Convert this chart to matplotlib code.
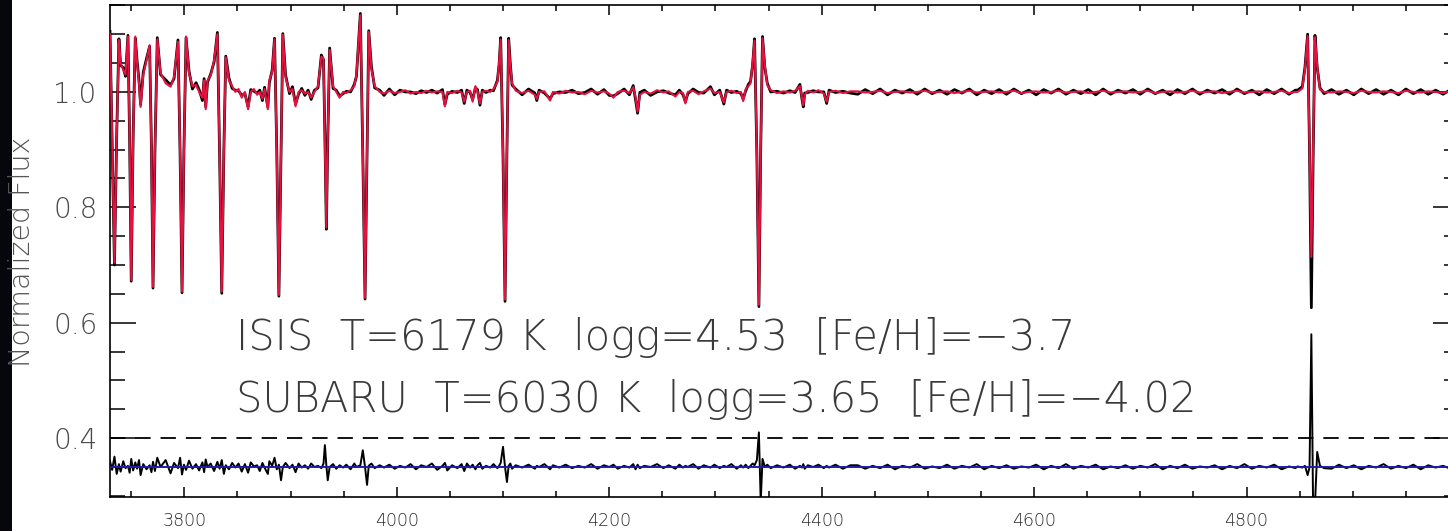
import matplotlib
matplotlib.use("Agg")
import matplotlib.pyplot as plt
from matplotlib.patches import Rectangle
from matplotlib.ticker import MultipleLocator, FormatStrFormatter, FuncFormatter

# wavelength grid (Angstrom)
wave = [
    3730.0, 3732.0, 3734.2, 3736.3, 3738.4, 3740.0, 3742.5, 3744.6, 3746.9, 3748.5,
    3750.0, 3751.8, 3753.8, 3755.5, 3757.3, 3758.8, 3761.3, 3764.4, 3767.3, 3769.0,
    3770.5, 3772.3, 3774.5, 3777.6, 3782.4, 3787.0, 3790.3, 3794.0, 3796.0, 3797.8,
    3799.6, 3801.6, 3804.4, 3807.6, 3811.0, 3813.9, 3817.0, 3818.6, 3820.1, 3821.8,
    3824.8, 3828.0, 3831.1, 3833.2, 3835.2, 3837.2, 3839.0, 3842.0, 3845.0, 3848.0,
    3851.0, 3854.0, 3857.0, 3860.0, 3862.5, 3865.5, 3868.5, 3871.0, 3873.5, 3875.5,
    3878.6, 3880.0, 3882.7, 3884.9, 3887.0, 3889.0, 3891.0, 3892.7, 3895.3, 3899.0,
    3901.8, 3904.7, 3907.5, 3910.5, 3913.5, 3916.5, 3919.4, 3922.5, 3925.8, 3929.0,
    3931.0, 3932.3, 3933.7, 3935.0, 3936.8, 3940.0, 3943.0, 3946.2, 3949.5, 3952.5,
    3956.5, 3960.0, 3962.0, 3965.7, 3968.0, 3970.1, 3972.0, 3973.6, 3976.1, 3979.2,
    3983.9, 3988.0,
    3993.0, 3998.0, 4003.0, 4008.0, 4013.0, 4018.0, 4023.0, 4028.0, 4033.0, 4038.0,
    4043.0, 4045.3, 4047.5, 4052.0, 4057.0, 4061.0, 4063.5, 4066.0, 4069.0, 4071.4,
    4074.0, 4076.0, 4078.3, 4080.5, 4084.0, 4088.0, 4091.0, 4094.7, 4096.3, 4097.8,
    4100.0, 4101.9, 4103.7, 4105.3, 4106.9, 4108.5, 4112.0,
    4118.0, 4124.0, 4130.0, 4131.8, 4134.0, 4139.0, 4144.3, 4147.0, 4153.0, 4159.0,
    4165.0, 4171.0, 4177.0, 4183.0, 4189.0, 4195.0, 4200.0, 4204.0, 4208.0, 4214.0,
    4219.0, 4222.6, 4224.8, 4226.7, 4228.8, 4233.0, 4239.0, 4245.0, 4251.0, 4256.0,
    4262.3, 4266.0, 4269.5, 4271.7, 4274.0, 4279.0, 4284.0, 4289.0, 4295.3, 4299.0,
    4304.0, 4307.9, 4310.5, 4315.0, 4320.0, 4324.0, 4326.1, 4328.5, 4331.0, 4333.0,
    4335.0, 4336.8, 4339.0, 4340.9, 4342.6, 4344.3, 4346.5, 4348.8, 4352.0,
    4358.0, 4364.0, 4370.0, 4375.0, 4379.5, 4381.5, 4382.7, 4384.0, 4387.0, 4392.0,
    4397.0, 4402.0, 4404.7, 4407.0, 4413.0, 4420.0, 4427.0,
    4434.0, 4441.0, 4448.0, 4455.0, 4462.0, 4469.0, 4476.0, 4483.0, 4490.0, 4497.0,
    4504.0, 4511.0, 4518.0, 4525.0, 4532.0, 4539.0, 4546.0, 4553.0, 4560.0, 4567.0,
    4574.0, 4581.0, 4588.0, 4595.0, 4602.0, 4609.0, 4616.0, 4623.0, 4630.0, 4637.0,
    4644.0, 4651.0, 4658.0, 4665.0, 4672.0, 4679.0, 4686.0, 4693.0, 4700.0, 4707.0,
    4714.0, 4721.0, 4728.0, 4735.0, 4742.0, 4749.0, 4756.0, 4763.0, 4770.0, 4777.0,
    4784.0, 4791.0, 4798.0, 4805.0, 4812.0, 4819.0, 4826.0, 4833.0, 4840.0, 4846.0,
    4848.0, 4852.5, 4855.0, 4857.5, 4859.3, 4861.0, 4862.7, 4864.4, 4866.5, 4869.1,
    4873.0,
    4880.0, 4887.0, 4894.0, 4901.0, 4908.0, 4915.0, 4922.0, 4929.0, 4936.0, 4943.0,
    4950.0, 4957.0, 4964.0, 4971.0, 4978.0, 4985.0, 4992.0, 4999.0,
]

# synthetic (model) spectrum, red
model_flux = [
    1.100, 0.920, 0.704, 0.920, 1.090, 1.050, 1.038, 1.030, 1.096, 0.920,
    0.674, 0.920, 1.096, 1.050, 1.015, 0.974, 1.030, 1.055, 1.081, 0.900,
    0.662, 0.900, 1.091, 1.033, 1.015, 1.009, 1.026, 1.087, 0.895, 0.654,
    0.895, 1.096, 1.033, 1.010, 1.012, 1.000, 0.990, 1.020, 0.970, 1.020,
    1.028, 1.055, 1.100, 0.895, 0.654, 0.895, 1.060, 1.020, 1.010, 1.000,
    1.005, 0.990, 1.000, 0.970, 1.000, 1.005, 0.995, 1.000, 0.988, 1.005,
    0.970, 1.020, 1.035, 1.091, 0.895, 0.648, 0.895, 1.099, 1.025, 1.000,
    1.005, 0.975, 1.000, 1.003, 0.997, 1.000, 0.990, 1.000, 1.010, 1.061,
    1.058, 0.920, 0.765, 0.920, 1.073, 1.010, 1.000, 0.990, 1.000, 0.998,
    1.003, 1.010, 1.030, 1.133, 0.895, 0.643, 0.895, 1.104, 1.040, 1.010,
    1.000, 0.997,
    1.002, 0.998, 1.000, 1.003, 0.997, 1.000, 0.998, 1.002, 0.999, 1.001,
    1.000, 0.975, 1.000, 0.998, 1.002, 0.999, 0.983, 1.000, 1.002, 0.983,
    1.010, 1.000, 0.980, 1.000, 1.002, 1.000, 1.005, 1.017, 1.050, 1.091,
    0.895, 0.640, 0.895, 1.090, 1.045, 1.015, 1.002,
    0.998, 1.002, 0.995, 0.988, 1.000, 1.001, 0.985, 1.000, 0.997, 1.002,
    0.999, 1.000, 0.996, 1.002, 0.999, 1.001, 0.997, 0.990, 1.000, 1.002,
    0.998, 1.008, 0.990, 0.966, 0.995, 1.000, 0.997, 1.003, 0.999, 1.001,
    0.992, 1.000, 0.998, 0.980, 1.000, 1.002, 0.996, 1.001, 1.006, 0.998,
    1.000, 0.982, 1.000, 1.002, 0.998, 1.000, 0.984, 1.005, 1.010, 1.015,
    1.050, 1.089, 0.895, 0.631, 0.895, 1.093, 1.045, 1.012, 1.003,
    0.998, 1.001, 0.999, 1.002, 1.010, 0.990, 0.977, 0.995, 1.002, 0.999,
    1.003, 0.997, 0.983, 1.000, 1.002, 0.998, 1.001,
    1.001, 0.999, 1.000, 1.002, 0.998, 1.000, 1.001, 0.999, 1.000, 1.002,
    0.999, 1.000, 1.001, 0.998, 1.000, 1.002, 0.999, 1.000, 1.001, 0.999,
    1.000, 1.002, 0.998, 1.000, 1.001, 0.999, 1.000, 1.002, 0.999, 1.000,
    1.001, 0.998, 1.000, 1.002, 0.999, 1.000, 1.001, 0.999, 1.000, 1.002,
    0.998, 1.000, 1.001, 0.999, 1.000, 1.002, 0.999, 1.000, 1.001, 0.998,
    1.000, 1.002, 0.999, 1.000, 1.001, 0.999, 1.000, 1.002, 0.998, 1.000,
    1.000, 1.006, 1.040, 1.097, 0.900, 0.714, 0.900, 1.095, 1.045, 1.004,
    1.000,
    0.999, 1.001, 1.000, 0.998, 1.002, 1.000, 0.999, 1.001, 1.000, 0.998,
    1.002, 1.000, 0.999, 1.001, 1.000, 0.998, 1.001, 1.000,
]

# observed (ISIS) spectrum, black
obs_flux = [
    1.105, 0.915, 0.700, 0.925, 1.092, 1.046, 1.042, 1.027, 1.098, 0.915,
    0.672, 0.925, 1.093, 1.054, 1.020, 0.978, 1.034, 1.058, 1.079, 0.905,
    0.660, 0.896, 1.094, 1.030, 1.021, 1.012, 1.023, 1.090, 0.890, 0.652,
    0.899, 1.094, 1.036, 1.005, 1.016, 1.004, 0.985, 1.023, 0.974, 1.017,
    1.031, 1.052, 1.103, 0.890, 0.651, 0.900, 1.062, 1.024, 1.006, 1.003,
    1.002, 0.994, 0.997, 0.974, 1.004, 1.001, 0.998, 1.003, 0.985, 1.008,
    0.974, 1.016, 1.038, 1.093, 0.900, 0.646, 0.890, 1.101, 1.029, 0.997,
    1.009, 0.979, 0.996, 1.006, 0.994, 1.003, 0.987, 1.003, 1.007, 1.064,
    1.055, 0.925, 0.762, 0.915, 1.076, 1.006, 1.003, 0.993, 0.997, 1.001,
    1.000, 1.013, 1.027, 1.136, 0.890, 0.641, 0.900, 1.106, 1.044, 1.007,
    1.003, 0.994,
    1.005, 0.995, 1.003, 1.000, 1.000, 0.997, 1.002, 0.999, 1.003, 0.998,
    1.004, 0.978, 0.996, 1.001, 0.999, 1.003, 0.980, 1.003, 0.999, 0.987,
    1.007, 1.004, 0.977, 1.003, 0.999, 1.003, 1.002, 1.020, 1.047, 1.094,
    0.890, 0.637, 0.900, 1.093, 1.048, 1.012, 1.005,
    0.995, 1.005, 0.998, 0.985, 1.003, 0.998, 0.988, 0.997, 1.000, 0.999,
    1.003, 0.997, 0.999, 1.005, 0.996, 1.004, 0.994, 0.993, 0.997, 1.005,
    0.995, 1.011, 0.986, 0.963, 0.999, 1.003, 0.994, 1.000, 1.002, 0.998,
    0.995, 1.003, 0.995, 0.983, 0.997, 1.005, 0.999, 0.998, 1.009, 0.995,
    1.003, 0.979, 1.003, 0.999, 1.001, 0.997, 0.988, 1.002, 1.013, 1.018,
    1.047, 1.092, 0.890, 0.628, 0.900, 1.096, 1.042, 1.015, 1.000,
    1.001, 0.998, 1.002, 0.999, 1.013, 0.987, 0.974, 0.998, 0.999, 1.002,
    1.000, 1.000, 0.980, 1.003, 0.999, 1.001, 0.998,
    0.996, 1.004, 0.997, 1.005, 0.995, 1.003, 0.998, 1.004, 0.996, 1.005,
    0.997, 1.003, 0.996, 1.004, 0.998, 1.005, 0.995, 1.003, 0.997, 1.004,
    0.996, 1.005, 0.997, 1.003, 0.995, 1.004, 0.998, 1.005, 0.996, 1.003,
    0.997, 1.004, 0.995, 1.005, 0.996, 1.003, 0.998, 1.004, 0.996, 1.005,
    0.997, 1.003, 0.995, 1.004, 0.997, 1.005, 0.996, 1.003, 0.998, 1.004,
    0.996, 1.005, 0.997, 1.003, 0.995, 1.004, 0.997, 1.005, 0.996, 1.003,
    1.003, 1.009, 1.043, 1.100, 0.895, 0.626, 0.890, 1.098, 1.042, 1.007,
    0.997,
    1.004, 0.996, 1.003, 0.995, 1.005, 0.997, 1.004, 0.996, 1.003, 0.995,
    1.005, 0.997, 1.004, 0.996, 1.003, 0.996, 1.004, 0.997,
]

# residuals, plotted around the offset level
resid_flux = [
    0.360, 0.345, 0.368, 0.338, 0.355, 0.342, 0.360, 0.348, 0.352, 0.340,
    0.364, 0.344, 0.358, 0.347, 0.362, 0.336, 0.355, 0.346, 0.353, 0.341,
    0.359, 0.343, 0.366, 0.350, 0.362, 0.339, 0.357, 0.348, 0.366, 0.337,
    0.354, 0.345, 0.361, 0.347, 0.355, 0.344, 0.358, 0.341, 0.363, 0.350,
    0.356, 0.343, 0.359, 0.347, 0.362, 0.338, 0.353, 0.346, 0.357, 0.349,
    0.356, 0.342, 0.355, 0.340, 0.358, 0.351, 0.353, 0.343, 0.357, 0.349,
    0.338, 0.360, 0.352, 0.366, 0.346, 0.354, 0.327, 0.350, 0.357, 0.348,
    0.354, 0.341, 0.356, 0.349, 0.353, 0.347, 0.356, 0.350, 0.352, 0.348,
    0.356, 0.388, 0.352, 0.327, 0.350, 0.355, 0.347, 0.353, 0.349, 0.354,
    0.346, 0.356, 0.350, 0.353, 0.379, 0.350, 0.319, 0.352, 0.356, 0.348,
    0.353, 0.349,
    0.354, 0.347, 0.352, 0.349, 0.355, 0.346, 0.353, 0.350, 0.356, 0.345,
    0.352, 0.357, 0.344, 0.353, 0.348, 0.355, 0.343, 0.356, 0.349, 0.354,
    0.346, 0.353, 0.357, 0.347, 0.352, 0.349, 0.355, 0.348, 0.352, 0.357,
    0.385, 0.350, 0.324, 0.352, 0.356, 0.347, 0.353,
    0.349, 0.354, 0.347, 0.352, 0.350, 0.355, 0.346, 0.353, 0.349, 0.354,
    0.348, 0.352, 0.349, 0.355, 0.347, 0.353, 0.350, 0.354, 0.347, 0.352,
    0.349, 0.355, 0.346, 0.354, 0.348, 0.352, 0.350, 0.355, 0.348, 0.353,
    0.347, 0.354, 0.349, 0.352, 0.350, 0.355, 0.347, 0.353, 0.349, 0.354,
    0.348, 0.352, 0.350, 0.355, 0.347, 0.353, 0.349, 0.354, 0.348, 0.352,
    0.356, 0.353, 0.362, 0.410, 0.290, 0.364, 0.350, 0.354, 0.348,
    0.353, 0.349, 0.354, 0.347, 0.352, 0.349, 0.355, 0.347, 0.353, 0.350,
    0.354, 0.348, 0.352, 0.349, 0.354, 0.347, 0.353,
    0.353, 0.347, 0.352, 0.348, 0.354, 0.346, 0.352, 0.349, 0.355, 0.347,
    0.351, 0.348, 0.354, 0.347, 0.352, 0.349, 0.355, 0.346, 0.352, 0.348,
    0.353, 0.347, 0.351, 0.349, 0.354, 0.346, 0.352, 0.348, 0.355, 0.347,
    0.352, 0.349, 0.354, 0.346, 0.351, 0.348, 0.353, 0.347, 0.352, 0.349,
    0.355, 0.346, 0.352, 0.348, 0.354, 0.347, 0.351, 0.349, 0.353, 0.346,
    0.352, 0.348, 0.355, 0.347, 0.352, 0.349, 0.354, 0.346, 0.351, 0.348,
    0.351, 0.349, 0.352, 0.336, 0.350, 0.580, 0.270, 0.285, 0.376, 0.352,
    0.348,
    0.347, 0.354, 0.348, 0.353, 0.346, 0.352, 0.349, 0.355, 0.347, 0.352,
    0.348, 0.354, 0.346, 0.353, 0.349, 0.352, 0.347, 0.351,
]

resid_zero = 0.35
ref_level = 0.4

label_lines = [
    "ISIS  T=6179 K  logg=4.53  [Fe/H]=\u22123.7",
    "SUBARU  T=6030 K  logg=3.65  [Fe/H]=\u22124.02",
]
label_y = [0.574, 0.467]

FONT = ["DejaVu Sans"]
RED = "#e3123f"
BLUE = "#1c1ca8"

W, H = 1448, 531
fig = plt.figure(figsize=(W / 100, H / 100), dpi=100)
fig.patch.set_facecolor("white")
fig.patches.append(Rectangle((0, 0), 12 / W, 1, transform=fig.transFigure,
                             facecolor="#05070d", edgecolor="none"))

ax = fig.add_axes([110 / W, 34 / H, 1349 / W, 492 / H])
ax.set_xlim(3730, 5000)
ax.set_ylim(0.298, 1.1506)

ax.plot(wave, obs_flux, color="black", lw=2.0, zorder=3)
ax.plot(wave, model_flux, color=RED, lw=1.5, zorder=4)
ax.plot(wave, resid_flux, color="black", lw=1.4, zorder=3)
ax.axhline(resid_zero, color=BLUE, lw=1.4, zorder=5)
ax.axhline(ref_level, color="black", lw=1.3, ls=(0, (8.5, 5.5)), zorder=2)

for txt, yy in zip(label_lines, label_y):
    ax.text(3849, yy, txt, family=FONT, weight="light", fontsize=30,
            color="#3a3a3a", ha="left", va="center")

ax.xaxis.set_major_locator(MultipleLocator(200))
ax.xaxis.set_minor_locator(MultipleLocator(50))
ax.yaxis.set_major_locator(MultipleLocator(0.2))
ax.yaxis.set_minor_locator(MultipleLocator(0.05))
ax.yaxis.set_major_formatter(FormatStrFormatter("%.1f"))
# the 5000 tick sits at the cropped right edge, so it carries no label
ax.xaxis.set_major_formatter(FuncFormatter(lambda v, p: "" if v > 4900 else f"{v:.0f}"))

ax.tick_params(axis="y", which="major", direction="in", length=19, width=1.1,
               left=True, right=True, labelsize=20, labelcolor="#4a4a4a", pad=9)
ax.tick_params(axis="y", which="minor", direction="in", length=10.5, width=1.1,
               left=True, right=True)
ax.tick_params(axis="x", which="major", direction="in", length=7.5, width=1.1,
               top=True, bottom=True, labelsize=12.5, labelcolor="#2a2a2a", pad=11)
ax.tick_params(axis="x", which="minor", direction="in", length=4.3, width=1.1,
               top=True, bottom=True)
for lab in ax.get_xticklabels() + ax.get_yticklabels():
    lab.set_family(FONT)
    lab.set_weight("light")
for sp in ax.spines.values():
    sp.set_linewidth(1.2)

fig.text(22 / W, 1 - 252 / H, "Normalized Flux", rotation=90, family=FONT,
         weight="light", fontsize=20.5, color="#555555", ha="center", va="center")

fig.savefig("out.png", dpi=100)
